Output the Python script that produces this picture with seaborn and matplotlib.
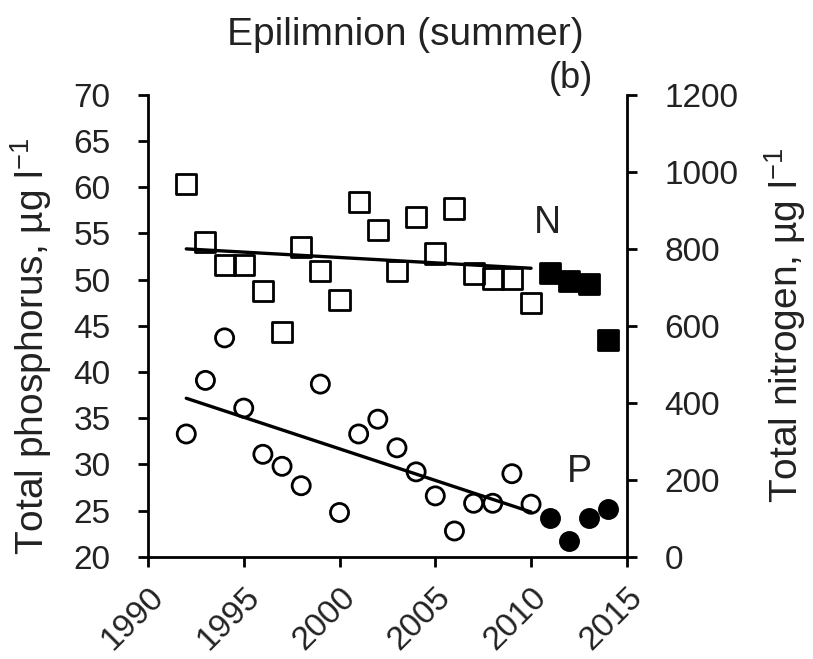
import numpy as np
import pandas as pd
import matplotlib.pyplot as plt
import seaborn as sns

# Style
sns.set_style("ticks")
plt.rcParams['font.family'] = ['Liberation Sans', 'DejaVu Sans']
plt.rcParams['mathtext.fontset'] = 'custom'
plt.rcParams['mathtext.rm'] = 'Liberation Sans'
plt.rcParams['mathtext.default'] = 'regular'

# Data (epilimnion, summer means)
years = list(range(1992, 2015))
phosphorus = [33.3, 39.1, 43.7, 36.1, 31.1, 29.8, 27.7, 38.7, 24.8, 33.3, 34.9,
              31.8, 29.2, 26.6, 22.8, 25.8, 25.8, 29.0, 25.7,
              24.2, 21.7, 24.2, 25.2]
nitrogen = [968, 817, 757, 757, 691, 584, 806, 743, 668, 921, 850,
            743, 882, 788, 905, 736, 723, 723, 660,
            738, 717, 710, 563]
last_trend_year = 2010

x_ticks = list(range(1990, 2016, 5))
p_ticks = list(range(20, 71, 5))
n_ticks = list(range(0, 1201, 200))

df = pd.DataFrame({'year': years, 'P': phosphorus, 'N': nitrogen})
old = df[df['year'] <= last_trend_year]
new = df[df['year'] > last_trend_year]

fig, ax = plt.subplots(figsize=(8.13, 6.59), dpi=100)
fig.subplots_adjust(left=0.182, right=0.771, bottom=0.155, top=0.856)
ax2 = ax.twinx()

# Phosphorus (left axis)
sns.scatterplot(data=old, x='year', y='P', ax=ax, marker='o', s=170,
                color='black', facecolor='none', edgecolor='black', linewidth=2, zorder=3)
sns.scatterplot(data=new, x='year', y='P', ax=ax, marker='o', s=170,
                color='black', edgecolor='black', linewidth=2, zorder=3)
sns.regplot(data=old, x='year', y='P', ax=ax, scatter=False, ci=None,
            color='black', line_kws={'linewidth': 2.4})

# Nitrogen (right axis)
sns.scatterplot(data=old, x='year', y='N', ax=ax2, marker='s', s=210,
                color='black', facecolor='none', edgecolor='black', linewidth=2, zorder=3)
sns.scatterplot(data=new, x='year', y='N', ax=ax2, marker='s', s=210,
                color='black', edgecolor='black', linewidth=2, zorder=3)
sns.regplot(data=old, x='year', y='N', ax=ax2, scatter=False, ci=None,
            color='black', line_kws={'linewidth': 2.4})

# Axes
ax.set_xlim(1990, 2015)
ax.set_ylim(20, 70)
ax2.set_ylim(0, 1200)
ax.set_xticks(x_ticks)
ax.set_yticks(p_ticks)
ax2.set_yticks(n_ticks)

for s in ['top', 'right']:
    ax.spines[s].set_visible(False)
for s in ['top', 'left', 'bottom']:
    ax2.spines[s].set_visible(False)
for s in ['left', 'bottom']:
    ax.spines[s].set_linewidth(2)
    ax.spines[s].set_color('black')
ax2.spines['right'].set_linewidth(2)
ax2.spines['right'].set_color('black')

ax.tick_params(axis='y', direction='out', length=7, width=2, labelsize=24,
               pad=20, color='black', labelcolor='#222222')
ax.tick_params(axis='x', direction='out', length=7, width=2, labelsize=24,
               pad=11, color='black', labelcolor='#222222')
ax2.tick_params(axis='y', direction='out', length=7, width=2, labelsize=24,
                pad=20, color='black', labelcolor='#222222')
plt.setp(ax.get_xticklabels(), rotation=45, ha='right', va='top', rotation_mode='anchor')

ax.set_xlabel('')
ax.set_ylabel('Total phosphorus, µg l$^{-1}$', fontsize=28, color='#222222')
ax2.set_ylabel('Total nitrogen, µg l$^{-1}$', fontsize=28, color='#222222')
ax.yaxis.set_label_coords(-0.197, 0.455)
ax2.yaxis.set_label_coords(1.282, 0.5)

# Annotations
ax.text(0.835, 0.701, 'N', transform=ax.transAxes, ha='center', va='baseline',
        fontsize=27, color='#222222')
ax.text(0.902, 0.162, 'P', transform=ax.transAxes, ha='center', va='baseline',
        fontsize=27, color='#222222')
fig.text(0.499, 0.947, 'Epilimnion (summer)', ha='center', va='center',
         fontsize=28, color='#222222')
fig.text(0.702, 0.881, '(b)', ha='center', va='center', fontsize=26, color='#222222')

fig.savefig('out.png', dpi=100)
plt.close()
